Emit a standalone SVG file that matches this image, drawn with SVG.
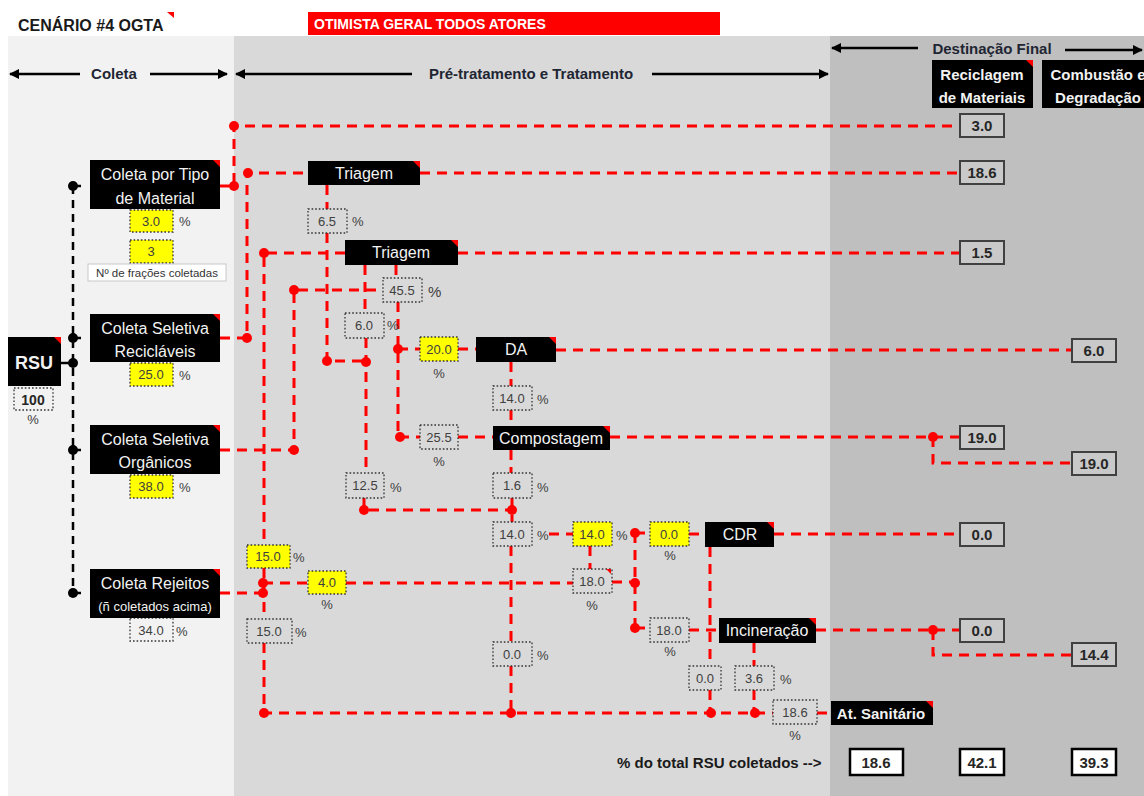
<svg xmlns="http://www.w3.org/2000/svg" width="1144" height="796" viewBox="0 0 1144 796">
  <style>
    text { font-family: "Liberation Sans", Arial, sans-serif; }
    .hdr { font-size: 15px; font-weight: bold; fill: #1f2633; text-anchor: middle; }
    .blk { fill: #000; }
    .nt { font-size: 16px; fill: #f2f2f2; text-anchor: middle; }
    .ntb { font-size: 15px; font-weight: bold; fill: #f2f2f2; text-anchor: middle; }
    .corner { fill: #ff0000; }
    .vb { fill: none; stroke: #333; stroke-width: 1.3; stroke-dasharray: 1.6 2; }
    .vy { fill: #ffff00; stroke: #333; stroke-width: 1.3; stroke-dasharray: 1.6 2; }
    .vt { font-size: 13px; fill: #404040; text-anchor: middle; }
    .pc { font-size: 13px; fill: #404040; }
    .pcm { font-size: 13px; fill: #404040; text-anchor: middle; }
    .res { fill: #c9c9c9; stroke: #404040; stroke-width: 2; }
    .tot { fill: #ffffff; stroke: #000; stroke-width: 2.5; }
    .rt { font-size: 15px; font-weight: bold; fill: #262626; text-anchor: middle; }
    .r { fill: none; stroke: #ff0000; stroke-width: 3; stroke-dasharray: 10 7; }
    .k { fill: none; stroke: #000; stroke-width: 2.5; stroke-dasharray: 8 6; }
    .rd { fill: #ff0000; }
    .kd { fill: #000; }
    .ax { stroke: #000; stroke-width: 2.5; }
  </style>
  <defs>
    <marker id="ah" viewBox="0 0 10 10" refX="9" refY="5" markerWidth="4" markerHeight="4" orient="auto-start-reverse">
      <path d="M0,0 L10,5 L0,10 z" fill="#000"/>
    </marker>
  </defs>

  <!-- background bands -->
  <rect x="0" y="0" width="1144" height="796" fill="#ffffff"/>
  <rect x="8" y="36" width="226" height="760" fill="#f2f2f2"/>
  <rect x="234" y="36" width="596" height="760" fill="#d9d9d9"/>
  <rect x="830" y="36" width="314" height="760" fill="#bfbfbf"/>

  <!-- title and banner -->
  <g id="title">
    <text x="18" y="31" font-size="16" font-weight="bold" fill="#1a1a1a">CENÁRIO #4 OGTA</text>
    <polygon class="corner" points="167,12 174,12 174,18"/>
  </g>
  <g id="banner">
    <rect x="308" y="12" width="412" height="23" fill="#ff0000"/>
    <text x="314" y="29" font-size="14" font-weight="bold" fill="#ffffff">OTIMISTA GERAL TODOS ATORES</text>
  </g>

  <!-- stage headers -->
  <g id="stage-headers">
    <line class="ax" x1="80" y1="74" x2="10" y2="74" marker-end="url(#ah)"/>
    <line class="ax" x1="150" y1="74" x2="227" y2="74" marker-end="url(#ah)"/>
    <text class="hdr" x="114" y="79">Coleta</text>
    <line class="ax" x1="412" y1="74" x2="236" y2="74" marker-end="url(#ah)"/>
    <line class="ax" x1="652" y1="74" x2="828" y2="74" marker-end="url(#ah)"/>
    <text class="hdr" x="531" y="79">Pré-tratamento e Tratamento</text>
    <line class="ax" x1="918" y1="48" x2="832" y2="48" marker-end="url(#ah)"/>
    <line class="ax" x1="1065" y1="50" x2="1142" y2="50" marker-end="url(#ah)"/>
    <text class="hdr" x="992" y="54">Destinação Final</text>
  </g>
  <g id="dest-reciclagem">
    <rect class="blk" x="932" y="60" width="101" height="48"/>
    <text class="ntb" x="982" y="80">Reciclagem</text>
    <text class="ntb" x="982" y="103">de Materiais</text>
    <polygon class="corner" points="1026,60 1033,60 1033,67"/>
  </g>
  <g id="dest-combustao">
    <rect class="blk" x="1042" y="60" width="110" height="48"/>
    <text class="ntb" x="1098" y="80">Combustão e</text>
    <text class="ntb" x="1098" y="103">Degradação</text>
  </g>

  <!-- connectors -->
  <g id="connectors">
    <!-- collection distribution (black) -->
    <path class="k" d="M73,186 V593"/>
    <path class="k" d="M61,363 H73"/>
    <path class="k" d="M73,186 H86 M73,338 H86 M73,450 H86 M73,593 H86"/>
    <circle class="kd" cx="73" cy="186" r="5"/>
    <circle class="kd" cx="73" cy="338" r="5"/>
    <circle class="kd" cx="73" cy="363" r="5"/>
    <circle class="kd" cx="73" cy="450" r="5"/>
    <circle class="kd" cx="73" cy="593" r="5"/>

    <!-- material flows (red) -->
    <path class="r" d="M220,186 H234 V126 H960"/>
    <path class="r" d="M220,338 H247 V173 H308"/>
    <path class="r" d="M420,173 H960"/>
    <path class="r" d="M327,185 V209"/>
    <path class="r" d="M327,233 V361 H366"/>
    <path class="r" d="M458,253 H960"/>
    <path class="r" d="M345,253 H264 V545"/>
    <path class="r" d="M220,450 H294 V290 H383"/>
    <path class="r" d="M365,265 V313"/>
    <path class="r" d="M396,265 V278"/>
    <path class="r" d="M366,338 V473"/>
    <path class="r" d="M364,498 V510 H512"/>
    <path class="r" d="M398,302 V437 H420"/>
    <path class="r" d="M398,349 H420"/>
    <path class="r" d="M458,349 H476"/>
    <path class="r" d="M556,350 H1072"/>
    <path class="r" d="M511,362 V386"/>
    <path class="r" d="M511,410 V426"/>
    <path class="r" d="M458,437 H493"/>
    <path class="r" d="M610,437 H960"/>
    <path class="r" d="M933,437 V463 H1072"/>
    <path class="r" d="M511,450 V473"/>
    <path class="r" d="M512,498 V522"/>
    <path class="r" d="M549,534 H573"/>
    <path class="r" d="M511,546 V642"/>
    <path class="r" d="M511,666 V713"/>
    <path class="r" d="M590,546 V569"/>
    <path class="r" d="M220,593 H263"/>
    <path class="r" d="M264,568 V619"/>
    <path class="r" d="M263,583 H308"/>
    <path class="r" d="M346,583 H573"/>
    <path class="r" d="M612,582 H635"/>
    <path class="r" d="M635,533 V628"/>
    <path class="r" d="M635,533 H650"/>
    <path class="r" d="M689,534 H705"/>
    <path class="r" d="M774,534 H960"/>
    <path class="r" d="M635,628 H650"/>
    <path class="r" d="M689,630 H719"/>
    <path class="r" d="M816,630 H960"/>
    <path class="r" d="M933,630 V655 H1072"/>
    <path class="r" d="M710,547 V666"/>
    <path class="r" d="M710,690 V713"/>
    <path class="r" d="M754,643 V666"/>
    <path class="r" d="M754,690 V713"/>
    <path class="r" d="M264,643 V713 H773"/>
    <path class="r" d="M817,713 H831"/>

    <circle class="rd" cx="234" cy="186" r="5"/>
    <circle class="rd" cx="234" cy="126" r="5"/>
    <circle class="rd" cx="247" cy="338" r="5"/>
    <circle class="rd" cx="248" cy="173" r="5"/>
    <circle class="rd" cx="327" cy="361" r="5"/>
    <circle class="rd" cx="366" cy="362" r="5"/>
    <circle class="rd" cx="264" cy="253" r="5"/>
    <circle class="rd" cx="294" cy="450" r="5"/>
    <circle class="rd" cx="294" cy="290" r="5"/>
    <circle class="rd" cx="364" cy="510" r="5"/>
    <circle class="rd" cx="512" cy="510" r="5"/>
    <circle class="rd" cx="398" cy="349" r="5"/>
    <circle class="rd" cx="400" cy="437" r="5"/>
    <circle class="rd" cx="933" cy="437" r="5"/>
    <circle class="rd" cx="263" cy="593" r="5"/>
    <circle class="rd" cx="263" cy="583" r="5"/>
    <circle class="rd" cx="635" cy="583" r="5"/>
    <circle class="rd" cx="635" cy="533" r="5"/>
    <circle class="rd" cx="635" cy="628" r="5"/>
    <circle class="rd" cx="933" cy="630" r="5"/>
    <circle class="rd" cx="264" cy="713" r="5"/>
    <circle class="rd" cx="511" cy="713" r="5"/>
    <circle class="rd" cx="711" cy="713" r="5"/>
    <circle class="rd" cx="755" cy="713" r="5"/>
  </g>

  <!-- collection nodes -->
  <g id="rsu">
    <rect class="blk" x="8" y="337" width="53" height="49"/>
    <text x="34" y="369" font-size="18" font-weight="bold" fill="#f2f2f2" text-anchor="middle">RSU</text>
    <polygon class="corner" points="54,337 61,337 61,344"/>
    <rect class="vb" x="14" y="388" width="39" height="22"/>
    <text x="33" y="405" font-size="14" font-weight="bold" fill="#262626" text-anchor="middle">100</text>
    <text class="pcm" x="33" y="424">%</text>
  </g>
  <g id="coleta-tipo">
    <rect class="blk" x="90" y="160" width="130" height="49"/>
    <text class="nt" x="155" y="180">Coleta por Tipo</text>
    <text class="nt" x="155" y="204">de Material</text>
    <polygon class="corner" points="213,160 220,160 220,167"/>
    <rect class="vy" x="130" y="210" width="43" height="22"/>
    <text class="vt" x="151" y="226">3.0</text>
    <text class="pc" x="179" y="226">%</text>
    <rect class="vy" x="130" y="240" width="43" height="23"/>
    <text class="vt" x="151" y="256">3</text>
    <rect x="88" y="264" width="138" height="17" fill="#ffffff" stroke="#c8c8c8" stroke-width="1"/>
    <text x="157" y="277" font-size="11.5" fill="#333" text-anchor="middle">Nº de frações coletadas</text>
  </g>
  <g id="coleta-reciclaveis">
    <rect class="blk" x="90" y="314" width="130" height="48"/>
    <text class="nt" x="155" y="334">Coleta Seletiva</text>
    <text class="nt" x="155" y="357">Recicláveis</text>
    <polygon class="corner" points="213,314 220,314 220,321"/>
    <rect class="vy" x="130" y="363" width="43" height="23"/>
    <text class="vt" x="151" y="379">25.0</text>
    <text class="pc" x="179" y="380">%</text>
  </g>
  <g id="coleta-organicos">
    <rect class="blk" x="90" y="425" width="130" height="49"/>
    <text class="nt" x="155" y="445">Coleta Seletiva</text>
    <text class="nt" x="155" y="468">Orgânicos</text>
    <polygon class="corner" points="213,425 220,425 220,432"/>
    <rect class="vy" x="130" y="475" width="43" height="23"/>
    <text class="vt" x="151" y="491">38.0</text>
    <text class="pc" x="179" y="492">%</text>
  </g>
  <g id="coleta-rejeitos">
    <rect class="vb" x="130" y="618" width="43" height="23"/>
    <rect class="blk" x="90" y="569" width="130" height="49"/>
    <text class="nt" x="155" y="589">Coleta Rejeitos</text>
    <text x="155" y="611" font-size="13" fill="#f2f2f2" text-anchor="middle">(ñ coletados acima)</text>
    <polygon class="corner" points="213,569 220,569 220,576"/>
    <text class="vt" x="151" y="635">34.0</text>
    <text class="pc" x="176" y="636">%</text>
  </g>

  <!-- treatment nodes -->
  <g id="triagem-1">
    <rect class="blk" x="308" y="161" width="112" height="24"/>
    <text class="nt" x="364" y="179">Triagem</text>
    <polygon class="corner" points="413,161 420,161 420,168"/>
    <rect class="vb" x="308" y="209" width="39" height="24"/>
    <text class="vt" x="327" y="226">6.5</text>
    <text class="pc" x="352" y="226">%</text>
  </g>
  <g id="triagem-2">
    <rect class="blk" x="345" y="240" width="113" height="25"/>
    <text class="nt" x="401" y="258">Triagem</text>
    <polygon class="corner" points="451,240 458,240 458,247"/>
    <rect class="vb" x="383" y="278" width="39" height="24"/>
    <text class="vt" x="402" y="295">45.5</text>
    <text x="428" y="297" font-size="15" fill="#404040">%</text>
    <rect class="vb" x="345" y="313" width="39" height="25"/>
    <text class="vt" x="364" y="330">6.0</text>
    <text class="pc" x="387" y="330">%</text>
    <rect class="vb" x="346" y="473" width="38" height="25"/>
    <text class="vt" x="365" y="490">12.5</text>
    <text class="pc" x="390" y="492">%</text>
  </g>
  <g id="da">
    <rect class="vy" x="420" y="337" width="38" height="24"/>
    <text class="vt" x="439" y="354">20.0</text>
    <text class="pcm" x="439" y="378">%</text>
    <rect class="blk" x="476" y="337" width="80" height="25"/>
    <text class="nt" x="516" y="355">DA</text>
    <polygon class="corner" points="549,337 556,337 556,344"/>
    <rect class="vb" x="493" y="386" width="39" height="24"/>
    <text class="vt" x="512" y="403">14.0</text>
    <text class="pc" x="537" y="404">%</text>
  </g>
  <g id="compostagem">
    <rect class="vb" x="420" y="425" width="38" height="24"/>
    <text class="vt" x="439" y="442">25.5</text>
    <text class="pcm" x="439" y="466">%</text>
    <rect class="blk" x="493" y="426" width="117" height="24"/>
    <text class="nt" x="551" y="444">Compostagem</text>
    <polygon class="corner" points="603,426 610,426 610,433"/>
    <rect class="vb" x="493" y="473" width="39" height="25"/>
    <text class="vt" x="512" y="490">1.6</text>
    <text class="pc" x="537" y="492">%</text>
  </g>
  <g id="split-rejeitos">
    <rect class="vb" x="493" y="522" width="39" height="24"/>
    <text class="vt" x="512" y="539">14.0</text>
    <text class="pc" x="537" y="540">%</text>
    <rect class="vy" x="573" y="522" width="39" height="24"/>
    <text class="vt" x="592" y="539">14.0</text>
    <text class="pc" x="616" y="540">%</text>
    <rect class="vb" x="573" y="569" width="39" height="24"/>
    <text class="vt" x="592" y="586">18.0</text>
    <polygon class="corner" points="606,569 611,569 611,574"/>
    <text class="pcm" x="592" y="610">%</text>
    <rect class="vb" x="493" y="642" width="39" height="24"/>
    <text class="vt" x="512" y="659">0.0</text>
    <text class="pc" x="537" y="660">%</text>
  </g>
  <g id="rejeitos-values">
    <rect class="vy" x="247" y="545" width="43" height="23"/>
    <text class="vt" x="268" y="561">15.0</text>
    <text class="pc" x="293" y="562">%</text>
    <rect class="vy" x="308" y="571" width="38" height="23"/>
    <text class="vt" x="327" y="587">4.0</text>
    <text class="pcm" x="327" y="609">%</text>
    <rect class="vb" x="247" y="619" width="45" height="24"/>
    <text class="vt" x="269" y="636">15.0</text>
    <text class="pc" x="295" y="637">%</text>
  </g>
  <g id="cdr">
    <rect class="vy" x="650" y="522" width="39" height="24"/>
    <text class="vt" x="669" y="539">0.0</text>
    <text class="pcm" x="670" y="560">%</text>
    <rect class="blk" x="705" y="522" width="69" height="25"/>
    <text class="nt" x="740" y="540">CDR</text>
    <polygon class="corner" points="767,522 774,522 774,529"/>
    <rect class="vb" x="689" y="666" width="32" height="24"/>
    <text class="vt" x="705" y="683">0.0</text>
  </g>
  <g id="incineracao">
    <rect class="vb" x="650" y="618" width="39" height="24"/>
    <text class="vt" x="669" y="635">18.0</text>
    <text class="pcm" x="670" y="656">%</text>
    <rect class="blk" x="719" y="618" width="97" height="25"/>
    <text class="nt" x="767" y="636">Incineração</text>
    <polygon class="corner" points="809,618 816,618 816,625"/>
    <rect class="vb" x="735" y="666" width="39" height="24"/>
    <text class="vt" x="754" y="683">3.6</text>
    <text class="pc" x="780" y="684">%</text>
  </g>
  <g id="aterro">
    <rect class="vb" x="773" y="700" width="44" height="24"/>
    <text class="vt" x="795" y="717">18.6</text>
    <text class="pcm" x="795" y="740">%</text>
    <rect class="blk" x="831" y="701" width="102" height="24"/>
    <text class="ntb" x="881" y="719">At. Sanitário</text>
    <polygon class="corner" points="926,701 933,701 933,708"/>
  </g>

  <!-- final destination values -->
  <g id="results">
    <rect class="res" x="960" y="114" width="44" height="23"/>
    <text class="rt" x="982" y="131">3.0</text>
    <rect class="res" x="960" y="161" width="44" height="23"/>
    <text class="rt" x="982" y="178">18.6</text>
    <rect class="res" x="960" y="241" width="44" height="23"/>
    <text class="rt" x="982" y="258">1.5</text>
    <rect class="res" x="1072" y="339" width="44" height="23"/>
    <text class="rt" x="1094" y="356">6.0</text>
    <rect class="res" x="960" y="426" width="44" height="23"/>
    <text class="rt" x="982" y="443">19.0</text>
    <rect class="res" x="1072" y="452" width="44" height="23"/>
    <text class="rt" x="1094" y="469">19.0</text>
    <rect class="res" x="960" y="523" width="44" height="23"/>
    <text class="rt" x="982" y="540">0.0</text>
    <rect class="res" x="960" y="619" width="44" height="23"/>
    <text class="rt" x="982" y="636">0.0</text>
    <rect class="res" x="1072" y="643" width="44" height="23"/>
    <text class="rt" x="1094" y="660">14.4</text>
  </g>

  <!-- totals -->
  <g id="totals">
    <text x="617" y="768" font-size="15" font-weight="bold" fill="#1a1a1a">% do total RSU coletados --&gt;</text>
    <rect class="tot" x="850" y="749" width="53" height="26"/>
    <text class="rt" x="876" y="768">18.6</text>
    <rect class="tot" x="960" y="749" width="44" height="26"/>
    <text class="rt" x="982" y="768">42.1</text>
    <rect class="tot" x="1072" y="749" width="44" height="26"/>
    <text class="rt" x="1094" y="768">39.3</text>
  </g>
</svg>
